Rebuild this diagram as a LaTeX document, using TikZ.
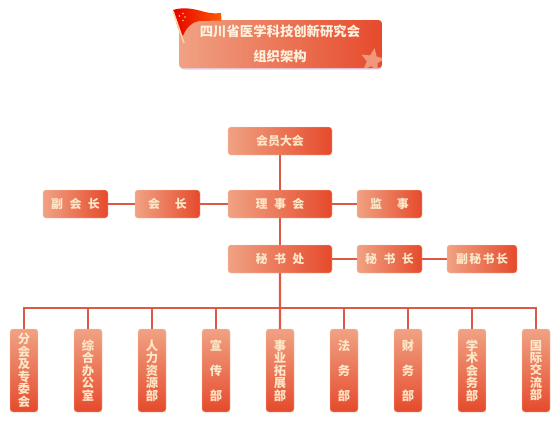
\documentclass[tikz,border=0pt]{standalone}
\usepackage{fontspec}
\setmainfont{Noto Sans CJK SC}
\usetikzlibrary{positioning,shapes.geometric}
\definecolor{boxlight}{HTML}{F0A283}
\definecolor{boxdark}{HTML}{E64A2C}
\definecolor{boxedge}{HTML}{F7C9B4}
\definecolor{linkred}{HTML}{DC5A45}
\definecolor{cream}{HTML}{FBE7C8}
\definecolor{shadowpink}{HTML}{E4CFE6}
\newcommand{\gapa}{\hspace{3.7pt}}
\newcommand{\gapb}{\hspace{8.5pt}}
\newcommand{\gapc}{\hspace{0.8pt}}

\begin{document}
\begin{tikzpicture}[
        node distance=0.54cm and 0.53cm,
        box/.style={rectangle, draw=boxedge, line width=0.25pt, rounded corners=1.6pt, outer sep=0pt, inner sep=0pt, minimum height=0.56cm, align=center, left color=boxlight, right color=boxdark, text=cream, font=\fontsize{6.8}{8.2}\selectfont\bfseries},
        wide/.style={box, minimum width=2.08cm},
        narrow/.style={box, minimum width=1.3cm},
        dept/.style={box, left color=boxlight, right color=boxlight, top color=boxlight, bottom color=boxdark, shading angle=0, minimum width=0.56cm, minimum height=1.66cm},
        deptfive/.style={dept, font=\fontsize{7}{7.1}\selectfont\bfseries},
        deptthree/.style={dept, font=\fontsize{7}{14.2}\selectfont\bfseries},
        conn/.style={draw=linkred, line width=1.25pt},
        titletxt/.style={text=cream!60!white, inner sep=0pt, font=\fontsize{7.6}{9}\selectfont\bfseries},
    ]
    \useasboundingbox (0,0) rectangle (11.18,-8.8);

    % === Title ===
    \fill[shadowpink, rounded corners=2pt] (3.6,-0.5) rectangle (7.64,-1.39);
    \node[box, draw=none, minimum width=4.06cm, minimum height=0.96cm, rounded corners=2pt] (title) at (5.61,-0.88) {};
    \begin{scope}
        \clip[rounded corners=2pt] (title.south west) rectangle (title.north east);
        \node[star, star points=5, star point ratio=2.2, fill=boxlight!90!boxdark, minimum size=0.5cm, inner sep=0pt, rotate=-10] (badge) at (7.45,-1.21) {};
    \end{scope}

    % Flag
    \shade[left color=red!90!black, right color=orange!70!red] (3.46,-0.2) .. controls (3.7,-0.12) and (3.95,-0.2) .. (4.1,-0.24) .. controls (4.22,-0.27) and (4.32,-0.27) .. (4.42,-0.26) -- (4.43,-0.41) -- (3.98,-0.42) .. controls (3.85,-0.44) and (3.72,-0.55) .. (3.66,-0.72) -- (3.56,-0.56) -- cycle;
    \draw[cream!80!orange, line width=0.9pt] (3.46,-0.22) -- (3.68,-0.86);
    \foreach \sx/\sy in {3.59/-0.32, 3.66/-0.27, 3.7/-0.34, 3.66/-0.41} {
        \fill[yellow!80!orange] (\sx,\sy) circle (0.018);
    }

    \node[titletxt] (name) at (5.6,-0.62) {四川省医学科技创新研究会};
    \node[titletxt] (sub) at (5.6,-1.12) {组织架构};

    % === Upper levels ===
    \node[wide] (assembly) at (5.6,-2.82) {会员大会};
    \node[wide, below=0.7cm of assembly] (council) {理\gapa 事\gapa 会};
    \node[narrow, left=0.56cm of council] (president) {会\gapb 长};
    \node[narrow, left=0.54cm of president] (vicepres) {副\gapa 会\gapa 长};
    \node[narrow, right=0.5cm of council] (supervisor) {监\gapb 事};

    \node[wide, below=of council] (office) {秘\gapa 书\gapa 处};
    \node[narrow, right=0.5cm of office] (secgen) {秘\gapa 书\gapa 长};
    \node[narrow, right=0.5cm of secgen, minimum width=1.4cm] (deputy) {副\gapc 秘\gapc 书\gapc 长};

    \draw[conn] (assembly) -- (council);
    \draw[conn] (council) -- (president);
    \draw[conn] (president) -- (vicepres);
    \draw[conn] (council) -- (supervisor);
    \draw[conn] (council) -- (office);
    \draw[conn] (office) -- (secgen);
    \draw[conn] (secgen) -- (deputy);

    % === Departments ===
    \coordinate[below=0.7cm of office] (bus);
    \node[deptfive] (branch) at (0.48,-7.41) {分\\会\\及\\专\\委\\会};
    \node[deptfive, right=0.72cm of branch] (general) {综\\合\\办\\公\\室};
    \node[deptfive, right=0.72cm of general] (staff) {人\\力\\资\\源\\部};
    \node[deptthree, right=0.72cm of staff] (publicity) {宣\\传\\部};
    \node[deptfive, right=0.72cm of publicity] (business) {事\\业\\拓\\展\\部};
    \node[deptthree, right=0.72cm of business] (legal) {法\\务\\部};
    \node[deptthree, right=0.72cm of legal] (finance) {财\\务\\部};
    \node[deptfive, right=0.72cm of finance] (academic) {学\\术\\会\\务\\部};
    \node[deptfive, right=0.72cm of academic] (intl) {国\\际\\交\\流\\部};

    \draw[conn] (office) -- (business);
    \draw[conn] (branch.north) |- (bus) -| (intl.north);
    \draw[conn] (general.north) -- (general.north |- bus);
    \draw[conn] (staff.north) -- (staff.north |- bus);
    \draw[conn] (publicity.north) -- (publicity.north |- bus);
    \draw[conn] (legal.north) -- (legal.north |- bus);
    \draw[conn] (finance.north) -- (finance.north |- bus);
    \draw[conn] (academic.north) -- (academic.north |- bus);
\end{tikzpicture}
\end{document}
